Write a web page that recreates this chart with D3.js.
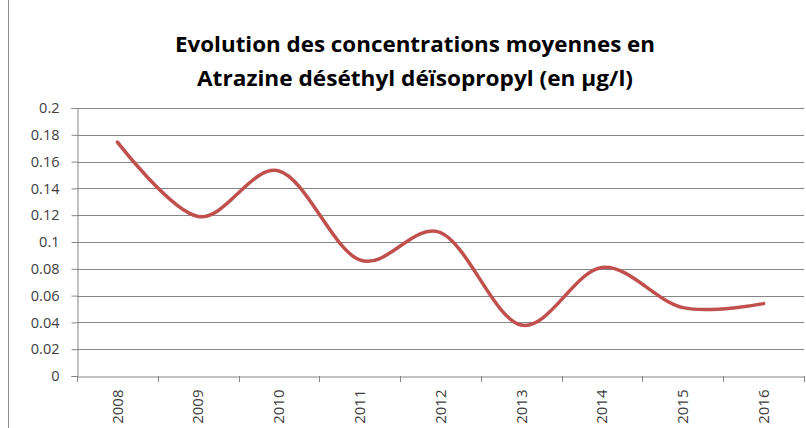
<!DOCTYPE html>
<html><head><meta charset="utf-8">
<script src="https://cdn.jsdelivr.net/npm/d3@7/dist/d3.min.js"></script>
<style>body{margin:0;background:#fff}svg{display:block}</style>
</head><body><svg id="c" width="806" height="428"></svg>
<script>
const years = ["2008","2009","2010","2011","2012","2013","2014","2015","2016"];
const values = [0.1745, 0.119, 0.153, 0.0866, 0.107, 0.038, 0.081, 0.051, 0.054];
const yTicks = [0,0.02,0.04,0.06,0.08,0.1,0.12,0.14,0.16,0.18,0.2];
const titleLines = ["Evolution des concentrations moyennes en","Atrazine déséthyl déïsopropyl (en µg/l)"];

const svg = d3.select("#c");
const pLeft = 77, pRight = 804, pTop = 108, pBottom = 376;
const x = d3.scaleBand().domain(years).range([pLeft, pRight]);
const y = d3.scaleLinear().domain([0, 0.2]).range([pBottom, pTop]);

svg.append("line").attr("x1",8.5).attr("x2",8.5).attr("y1",0).attr("y2",428).attr("stroke","#8c8c8c");

// gridlines
svg.append("g").selectAll("line").data(yTicks.slice(1)).join("line")
  .attr("x1",pLeft).attr("x2",pRight)
  .attr("y1",d=>Math.round(y(d))+0.5).attr("y2",d=>Math.round(y(d))+0.5)
  .attr("stroke","#868686").attr("stroke-width",1);

const font = "'Open Sans', 'Liberation Sans', sans-serif";
// y axis
const ya = svg.append("g").attr("transform",`translate(${pLeft+0.5},0)`)
  .call(d3.axisLeft(y).tickValues(yTicks).tickSize(6).tickPadding(12).tickFormat(d=>String(+d.toFixed(2))));
ya.select(".domain").attr("stroke","#868686");
ya.selectAll(".tick line").attr("stroke","#868686");
ya.selectAll(".tick text").attr("font-family",font).attr("font-size",14.5).attr("fill","#404040");

// x axis
const xa = svg.append("g").attr("transform",`translate(0,${Math.round(pBottom)+0.5})`)
  .call(d3.axisBottom(x).tickSize(0).tickFormat(d=>d));
xa.select(".domain").attr("stroke","#868686");
xa.selectAll(".tick line").remove();
xa.selectAll(".tick text").attr("font-family",font).attr("font-size",15).attr("fill","#404040")
  .attr("transform","rotate(-90)").attr("text-anchor","end").attr("x",-13).attr("y",0).attr("dy","0.35em");
// band boundary ticks
const bounds = years.map(d=>x(d)).concat([pRight]);
svg.append("g").selectAll("line").data(bounds).join("line")
  .attr("x1",d=>Math.round(d)+0.5).attr("x2",d=>Math.round(d)+0.5)
  .attr("y1",pBottom).attr("y2",pBottom+6).attr("stroke","#868686");

// line
const line = d3.line().x((d,i)=>x(years[i])+x.bandwidth()/2).y(d=>y(d)).curve(d3.curveCatmullRom.alpha(0));
svg.append("path").datum(values).attr("d",line).attr("fill","none")
  .attr("stroke","#c0504d").attr("stroke-width",3.5).attr("stroke-linecap","round");

// title
svg.append("g").selectAll("text").data(titleLines).join("text")
  .attr("x",415).attr("y",(d,i)=>i==0?52:86).attr("text-anchor","middle")
  .attr("font-family","'Liberation Sans Narrow', 'Open Sans', sans-serif").attr("font-weight","bold").attr("font-size",22).attr("fill","#000")
  .attr("textLength",(d,i)=>i==0?480:436).attr("lengthAdjust","spacingAndGlyphs")
  .text(d=>d);
</script></body></html>
